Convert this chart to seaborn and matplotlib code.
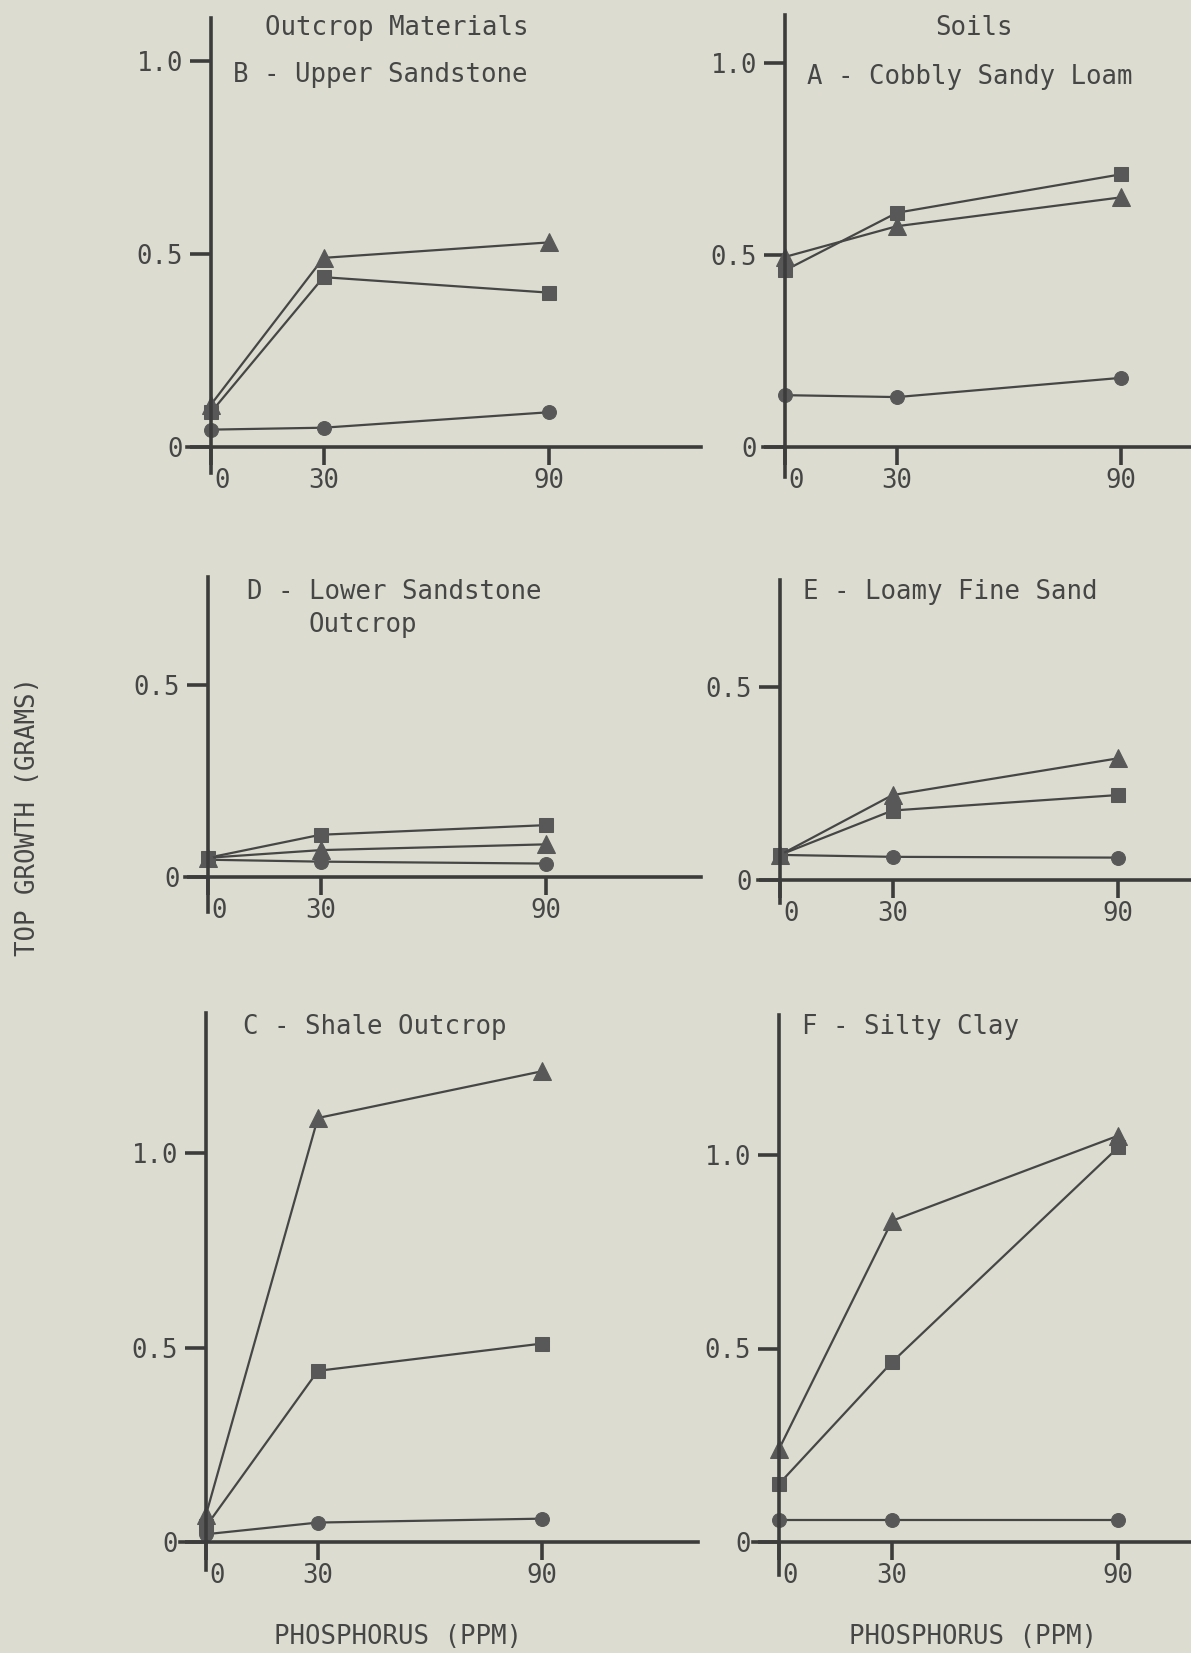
import matplotlib
matplotlib.use('Agg')
import matplotlib.pyplot as plt
import matplotlib.transforms as mtrans
import seaborn as sns

# phosphorus levels (ppm)
phosphorus = [0, 30, 90]

# outcrop materials
b_circle = [0.045, 0.05, 0.09]
b_square = [0.09, 0.44, 0.40]
b_triangle = [0.11, 0.49, 0.53]

d_circle = [0.045, 0.04, 0.035]
d_square = [0.05, 0.11, 0.135]
d_triangle = [0.05, 0.07, 0.085]

c_circle = [0.02, 0.05, 0.06]
c_square = [0.04, 0.44, 0.51]
c_triangle = [0.07, 1.09, 1.21]

# soils
a_circle = [0.135, 0.13, 0.18]
a_square = [0.46, 0.61, 0.71]
a_triangle = [0.495, 0.575, 0.65]

e_circle = [0.065, 0.06, 0.058]
e_square = [0.065, 0.18, 0.22]
e_triangle = [0.065, 0.22, 0.315]

f_circle = [0.058, 0.058, 0.058]
f_square = [0.15, 0.465, 1.02]
f_triangle = [0.24, 0.83, 1.05]

x_ticks = [0, 30, 90]
x_tick_labels = ['0', '30', '90']
y_ticks_tall = [0, 0.5, 1.0]
y_ticks_short = [0, 0.5]

W, H = 1191, 1653
BG = '#dcdcd0'
INK = '#464646'
MARK = '#585858'
FS = 18.5

sns.set_theme(style='ticks')
plt.rcParams['font.family'] = ['DejaVu Sans Mono', 'DejaVu Sans']

fig = plt.figure(figsize=(W / 100, H / 100), dpi=100, facecolor=BG)


def place(ax, x0, sx, left, right, y0, sy, top, bottom):
    # pixel geometry of the scanned panel -> axes position and limits
    ax.set_position([left / W, 1 - bottom / H, (right - left) / W, (bottom - top) / H])
    ax.set_xlim((left - x0) / sx, (right - x0) / sx)
    ax.set_ylim((y0 - bottom) / sy, (y0 - top) / sy)


def draw_panel(geom, circle, square, triangle, yticks):
    ax = fig.add_axes([0, 0, 1, 1])
    ax.set_facecolor('none')
    sns.lineplot(x=phosphorus, y=circle, ax=ax, color=INK, linewidth=1.6,
                 marker='o', markersize=10, markerfacecolor=MARK, markeredgecolor=MARK,
                 errorbar=None, legend=False)
    sns.lineplot(x=phosphorus, y=square, ax=ax, color=INK, linewidth=1.6,
                 marker='s', markersize=9.5, markerfacecolor=MARK, markeredgecolor=MARK,
                 errorbar=None, legend=False)
    sns.lineplot(x=phosphorus, y=triangle, ax=ax, color=INK, linewidth=1.6,
                 marker='^', markersize=13.5, markerfacecolor=MARK, markeredgecolor=MARK,
                 errorbar=None, legend=False)
    place(ax, *geom)
    for s in ['top', 'right']:
        ax.spines[s].set_visible(False)
    for s in ['left', 'bottom']:
        ax.spines[s].set_position(('data', 0))
        ax.spines[s].set_linewidth(2.6)
        ax.spines[s].set_color('#3c3c3c')
    ax.set_xticks(x_ticks)
    ax.set_xticklabels(x_tick_labels)
    ax.set_yticks(yticks)
    ax.set_yticklabels(['0' if v == 0 else f'{v:.1f}' for v in yticks])
    ax.tick_params(axis='y', direction='out', length=15, width=2.6, color='#3c3c3c',
                   pad=5, labelsize=FS, labelcolor=INK)
    ax.tick_params(axis='x', direction='out', length=13, width=2.6, color='#3c3c3c',
                   pad=2, labelsize=FS, labelcolor=INK)
    lab0 = ax.get_xticklabels()[0]
    lab0.set_transform(lab0.get_transform() + mtrans.ScaledTranslation(8 / 72, 0, fig.dpi_scale_trans))
    ax.set_xlabel('')
    ax.set_ylabel('')
    return ax


# geometry: x0 px, px per ppm, left, right, y0 px, px per gram, top, bottom
draw_panel((211, 3.75, 187, 701, 447, 386, 18, 473), b_circle, b_square, b_triangle, y_ticks_tall)
draw_panel((785, 3.73, 763, 1191, 447, 384, 15, 477), a_circle, a_square, a_triangle, y_ticks_tall)
draw_panel((208, 3.75, 185, 701, 877, 384, 577, 912), d_circle, d_square, d_triangle, y_ticks_short)
draw_panel((780, 3.75, 758, 1191, 880, 386, 580, 903), e_circle, e_square, e_triangle, y_ticks_short)
draw_panel((206, 3.73, 180, 698, 1542, 389, 1013, 1570), c_circle, c_square, c_triangle, y_ticks_tall)
draw_panel((779, 3.77, 753, 1191, 1542, 387, 1015, 1575), f_circle, f_square, f_triangle, y_ticks_tall)


def label(x, y, s, **kw):
    fig.text(x / W, 1 - y / H, s, fontsize=FS, color=INK, va='center', **kw)


label(265, 28, 'Outcrop Materials', ha='left')
label(935, 28, 'Soils', ha='left')
label(233, 75, 'B - Upper Sandstone', ha='left')
label(807, 77, 'A - Cobbly Sandy Loam', ha='left')
label(247, 592, 'D - Lower Sandstone', ha='left')
label(308, 625, 'Outcrop', ha='left')
label(803, 592, 'E - Loamy Fine Sand', ha='left')
label(243, 1027, 'C - Shale Outcrop', ha='left')
label(802, 1027, 'F - Silty Clay', ha='left')
label(398, 1637, 'PHOSPHORUS (PPM)', ha='center')
label(973, 1637, 'PHOSPHORUS (PPM)', ha='center')
label(28, 817, 'TOP GROWTH (GRAMS)', ha='center', rotation=90)

fig.savefig('out.png', dpi=100, facecolor=BG)
